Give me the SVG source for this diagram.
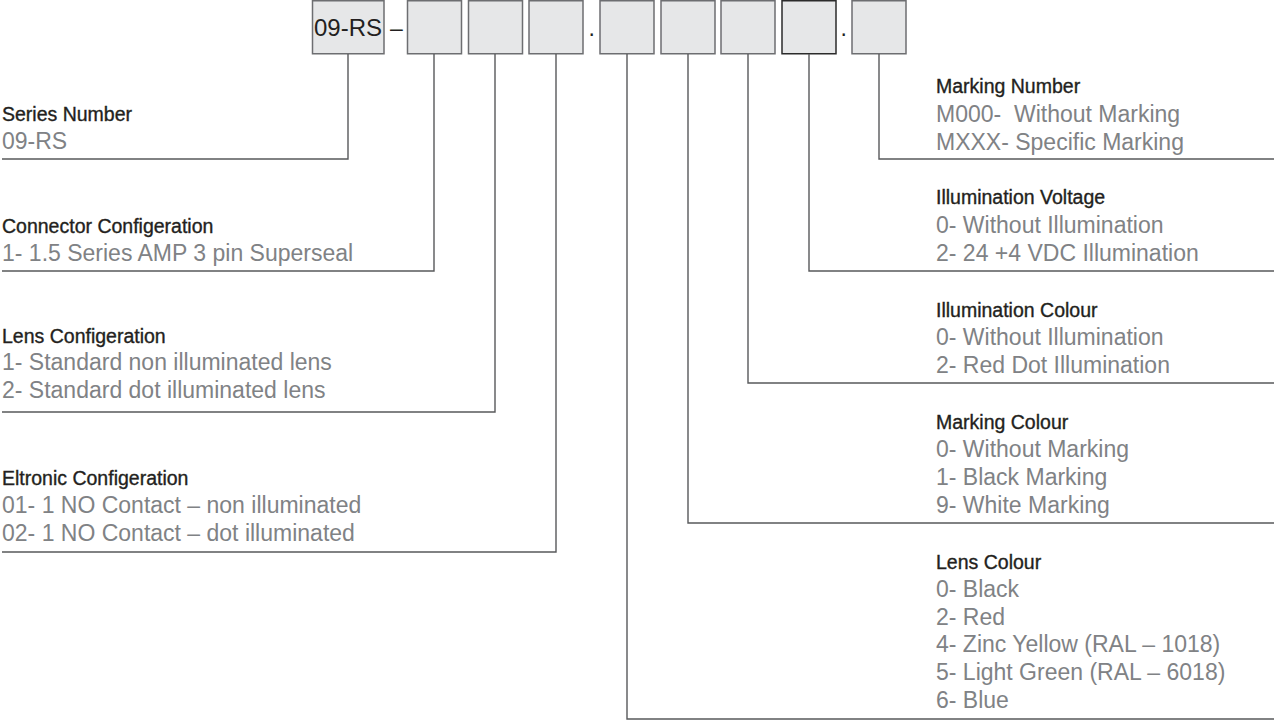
<svg xmlns="http://www.w3.org/2000/svg" width="1274" height="721" viewBox="0 0 1274 721">
<style>
  .box { fill: #e6e7e8; stroke: #6d6e71; stroke-width: 1.5; }
  .box-dark { fill: #e6e7e8; stroke: #2b2b2b; stroke-width: 1.5; }
  .code { font-family: "Liberation Sans", Arial, sans-serif; font-size: 24px; fill: #231f20; }
  .sep { font-family: "Liberation Sans", Arial, sans-serif; font-size: 23px; fill: #231f20; }
  .head { font-family: "Liberation Sans", Arial, sans-serif; font-size: 19.5px; fill: #231f20; stroke: #231f20; stroke-width: 0.35; }
  .item { font-family: "Liberation Sans", Arial, sans-serif; font-size: 23px; fill: #808285; white-space: pre; }
  .conn { fill: none; stroke: #58595b; stroke-width: 1.4; }
</style>
<rect width="1274" height="721" fill="#ffffff"/>

<g id="code-boxes">
  <g id="box-series"><rect class="box" x="312.5" y="0.75" width="71.5" height="53"/><text class="code" x="348" y="36" text-anchor="middle">09-RS</text></g>
  <text class="sep" x="390" y="36">–</text>
  <g id="box-connector"><rect class="box" x="407.5" y="0.75" width="54" height="53"/></g>
  <g id="box-lens"><rect class="box" x="468.5" y="0.75" width="54" height="53"/></g>
  <g id="box-eltronic"><rect class="box" x="529" y="0.75" width="54" height="53"/></g>
  <text class="sep" x="588.5" y="36">.</text>
  <g id="box-lens-colour"><rect class="box" x="600" y="0.75" width="54" height="53"/></g>
  <g id="box-marking-colour"><rect class="box" x="661" y="0.75" width="54" height="53"/></g>
  <g id="box-illum-colour"><rect class="box" x="721" y="0.75" width="54" height="53"/></g>
  <g id="box-illum-voltage"><rect class="box-dark" x="782" y="0.75" width="54" height="53"/></g>
  <text class="sep" x="840.5" y="36">.</text>
  <g id="box-marking-number"><rect class="box" x="852" y="0.75" width="54" height="53"/></g>
</g>

<g id="connectors">
  <path class="conn" d="M348 54 V159 H2"/>
  <path class="conn" d="M434 54 V271 H2"/>
  <path class="conn" d="M495 54 V412 H2"/>
  <path class="conn" d="M556 54 V552 H2"/>
  <path class="conn" d="M627 54 V719 H1274"/>
  <path class="conn" d="M688 54 V523 H1274"/>
  <path class="conn" d="M748 54 V383 H1274"/>
  <path class="conn" d="M809 54 V271 H1274"/>
  <path class="conn" d="M879 54 V159 H1274"/>
</g>

<g id="series-number">
  <text class="head" x="2" y="121">Series Number</text>
  <text class="item" x="2" y="149">09-RS</text>
</g>
<g id="connector-configeration">
  <text class="head" x="2" y="233">Connector Configeration</text>
  <text class="item" x="2" y="261">1- 1.5 Series AMP 3 pin Superseal</text>
</g>
<g id="lens-configeration">
  <text class="head" x="2" y="343">Lens Configeration</text>
  <text class="item" x="2" y="370">1- Standard non illuminated lens</text>
  <text class="item" x="2" y="398">2- Standard dot illuminated lens</text>
</g>
<g id="eltronic-configeration">
  <text class="head" x="2" y="485">Eltronic Configeration</text>
  <text class="item" x="2" y="513">01- 1 NO Contact – non illuminated</text>
  <text class="item" x="2" y="541">02- 1 NO Contact – dot illuminated</text>
</g>

<g id="marking-number">
  <text class="head" x="936" y="93">Marking Number</text>
  <text class="item" x="936" y="122">M000-  Without Marking</text>
  <text class="item" x="936" y="150">MXXX- Specific Marking</text>
</g>
<g id="illumination-voltage">
  <text class="head" x="936" y="204">Illumination Voltage</text>
  <text class="item" x="936" y="233">0- Without Illumination</text>
  <text class="item" x="936" y="261">2- 24 +4 VDC Illumination</text>
</g>
<g id="illumination-colour">
  <text class="head" x="936" y="317">Illumination Colour</text>
  <text class="item" x="936" y="345">0- Without Illumination</text>
  <text class="item" x="936" y="373">2- Red Dot Illumination</text>
</g>
<g id="marking-colour">
  <text class="head" x="936" y="429">Marking Colour</text>
  <text class="item" x="936" y="457">0- Without Marking</text>
  <text class="item" x="936" y="485">1- Black Marking</text>
  <text class="item" x="936" y="513">9- White Marking</text>
</g>
<g id="lens-colour">
  <text class="head" x="936" y="569">Lens Colour</text>
  <text class="item" x="936" y="597">0- Black</text>
  <text class="item" x="936" y="625">2- Red</text>
  <text class="item" x="936" y="652">4- Zinc Yellow (RAL – 1018)</text>
  <text class="item" x="936" y="680">5- Light Green (RAL – 6018)</text>
  <text class="item" x="936" y="708">6- Blue</text>
</g>
</svg>
